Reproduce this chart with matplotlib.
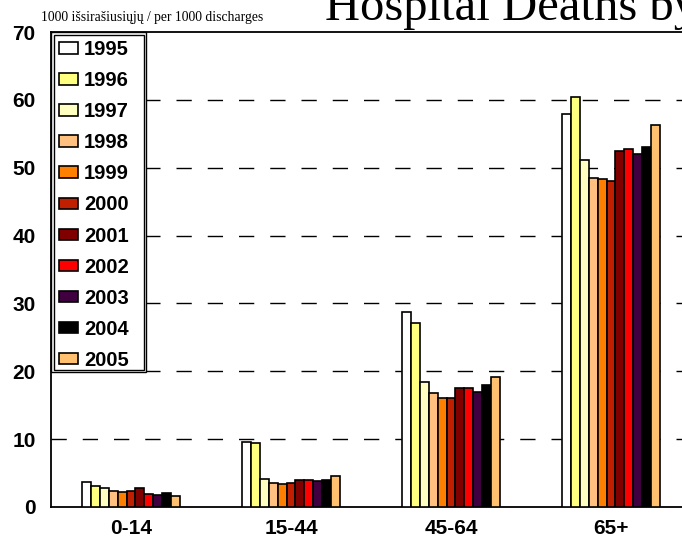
import numpy as np
import matplotlib
matplotlib.use('Agg')
import matplotlib.pyplot as plt
from matplotlib.patches import Rectangle

# data
groups = ['0-14', '15-44', '45-64', '65+']
years = ['1995', '1996', '1997', '1998', '1999', '2000',
         '2001', '2002', '2003', '2004', '2005']
v_0_14 = [3.7, 3.15, 2.85, 2.35, 2.25, 2.35, 2.85, 1.85, 1.7, 2.0, 1.65]
v_15_44 = [9.6, 9.45, 4.1, 3.6, 3.45, 3.6, 4.0, 3.95, 3.85, 3.95, 4.55]
v_45_64 = [28.8, 27.1, 18.4, 16.8, 16.0, 16.0, 17.5, 17.5, 16.9, 18.0, 19.1]
v_65 = [57.9, 60.4, 51.1, 48.5, 48.3, 48.0, 52.5, 52.7, 52.0, 53.0, 56.3]
colors = ['#FFFFFF', '#FFFF80', '#FFFFC0', '#FFC080', '#FF8000', '#C02000',
          '#800000', '#FF0000', '#400040', '#000000', '#FFC070']

values = np.array([v_0_14, v_15_44, v_45_64, v_65])  # groups x years

plt.rcParams['font.family'] = ['Liberation Sans', 'DejaVu Sans']
fig = plt.figure(figsize=(6.82, 5.42), dpi=100)
# axes run past the right edge, the original is cropped there
ax = fig.add_axes([51/682, 35/542, 640/682, 475/542])

xs = np.arange(len(groups))
w = 0.0553
for k, yr in enumerate(years):
    ax.bar(xs + (k - 5) * w, values[:, k], width=w, color=colors[k],
           edgecolor='black', linewidth=1.2, label=yr, zorder=3)

ax.set_xlim(-0.5, 3.5)
ax.set_ylim(0, 70)
ax.set_yticks(range(0, 80, 10))
ax.set_xticks(xs)
ax.set_xticklabels(groups)
for lab in ax.get_xticklabels() + ax.get_yticklabels():
    lab.set_fontweight('bold')
    lab.set_fontsize(15)
ax.tick_params(axis='y', length=0, pad=11)
ax.tick_params(axis='x', length=0, pad=9)

for g in range(10, 70, 10):
    ax.axhline(g, color='black', lw=1.0, linestyle=(0, (11, 11.5)), zorder=1)

for s in ['left', 'top', 'bottom']:
    ax.spines[s].set_linewidth(1.3)
ax.spines['right'].set_visible(False)

# legend box (double line) drawn by hand, wider than the text like the original
ax.add_patch(Rectangle((0, 135/475), 95/640, 340/475, transform=ax.transAxes,
                       facecolor='white', edgecolor='black', lw=1.0,
                       zorder=4, clip_on=False))
ax.add_patch(Rectangle((2.5/640, 137.5/475), 90/640, 335/475,
                       transform=ax.transAxes, fill=False,
                       edgecolor='black', lw=1.0, zorder=4.5, clip_on=False))

leg = ax.legend(loc='upper left', bbox_to_anchor=(0, 1), borderaxespad=0,
                prop={'weight': 'bold', 'size': 14.5}, handlelength=0.95,
                handleheight=0.5, handletextpad=0.3, labelspacing=0.6,
                borderpad=0.4, frameon=False)
leg.set_zorder(6)

fig.text(41/682, 1 - 21/542, '1000 išsirašiusiųjų / per 1000 discharges',
         family='Liberation Serif', fontsize=9.8, va='baseline')
fig.text(325/682, 1 - 20/542, 'Hospital Deaths by',
         family='Liberation Serif', fontsize=35, va='baseline')

plt.savefig('out.png', dpi=100)
